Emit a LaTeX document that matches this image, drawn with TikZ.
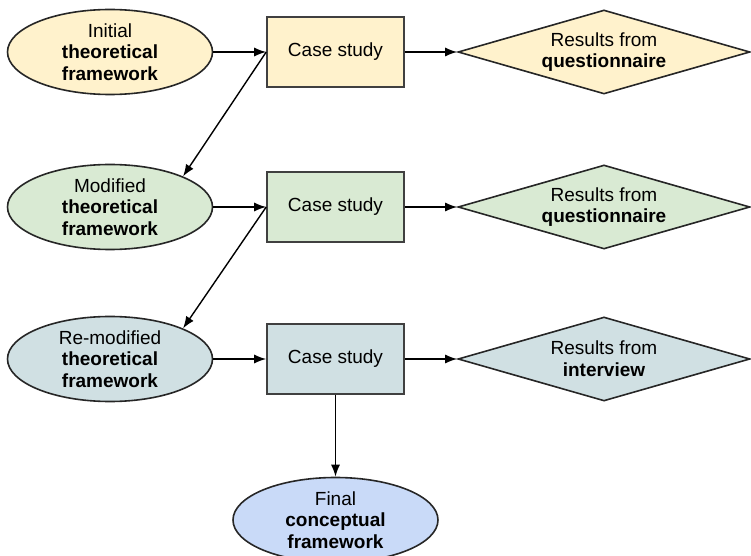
\documentclass[tikz,border=0pt]{standalone}
\usepackage{fontspec}
\setmainfont{Liberation Sans}
\usetikzlibrary{arrows.meta,shapes.geometric}

\definecolor{stageOne}{HTML}{FFF2CC}
\definecolor{stageTwo}{HTML}{D9EAD3}
\definecolor{stageThree}{HTML}{D0E0E3}
\definecolor{stageFinal}{HTML}{C9DAF8}

\begin{document}
\begin{tikzpicture}
    [x=0.5pt,y=-0.5pt,inner sep=0pt,
      every node/.style={font=\fontsize{9.5}{10.8}\selectfont,align=center},
      frame/.style={ellipse,minimum width=102.5pt,minimum height=42.5pt,
        draw=black!85,line width=0.8pt},
      study/.style={rectangle,minimum width=68.5pt,minimum height=35pt,
        draw=black!75,line width=0.8pt},
      result/.style={diamond,aspect=3.5,minimum width=146pt,minimum height=42pt,
        draw=black!85,line width=0.8pt},
      link/.style={line width=0.7pt,-{Latex[length=6pt,width=4.5pt]}}
    ]
    \useasboundingbox (0,0) rectangle (751,556);

    % first round
    \node [frame,fill=stageOne] (fwInit) at (110,52)
      {Initial\\\textbf{theoretical}\\\textbf{framework}};
    \node [study,fill=stageOne] (caseA) at (335.5,52) {Case study};
    \node [result,fill=stageOne] (resA) at (604,52)
      {Results from\\\textbf{questionnaire}};

    % second round
    \node [frame,fill=stageTwo] (fwMod) at (110,207)
      {Modified\\\textbf{theoretical}\\\textbf{framework}};
    \node [study,fill=stageTwo] (caseB) at (335.5,207) {Case study};
    \node [result,fill=stageTwo] (resB) at (604,207)
      {Results from\\\textbf{questionnaire}};

    % third round
    \node [frame,fill=stageThree] (fwRemod) at (110,359)
      {Re-modified\\\textbf{theoretical}\\\textbf{framework}};
    \node [study,fill=stageThree] (caseC) at (335.5,359) {Case study};
    \node [result,fill=stageThree] (resC) at (604,359)
      {Results from\\\textbf{interview}};

    \node [frame,fill=stageFinal] (fwFinal) at (335.5,520)
      {Final\\\textbf{conceptual}\\\textbf{framework}};

    \draw [link] (fwInit) -- (caseA);
    \draw [link] (caseA) -- (resA);
    \draw [link] (caseA.west) -- (fwMod.north east);
    \draw [link] (fwMod) -- (caseB);
    \draw [link] (caseB) -- (resB);
    \draw [link] (caseB.west) -- (fwRemod.north east);
    \draw [link] (fwRemod) -- (caseC);
    \draw [link] (caseC) -- (resC);
    \draw [link] (caseC) -- (fwFinal);
  \end{tikzpicture}
\end{document}
